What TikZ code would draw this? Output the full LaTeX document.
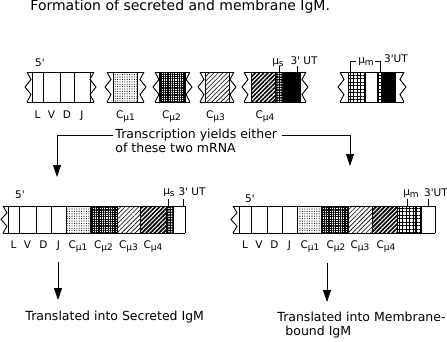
\documentclass[tikz,border=0pt]{standalone}
\usepackage{fontspec}
\setmainfont{DejaVu Sans}
\usetikzlibrary{positioning,patterns.meta,arrows.meta}

% exon fills
\tikzset{
  lbl/.style={inner sep=0pt, font=\fontsize{10.5}{12}\selectfont},
  txt/.style={inner sep=0pt, anchor=west, font=\fontsize{12.5}{15}\selectfont},
  cmua/.style={pattern={Dots[radius=0.55pt,distance=2.4pt]}},
  cmub/.style={pattern={Hatch[angle=0,distance=2.3pt,line width=1.2pt]}},
  cmuc/.style={pattern={Lines[angle=45,distance=3.2pt,line width=0.6pt]}},
  cmud/.style={pattern={Lines[angle=45,distance=3pt,line width=1.7pt]}},
  mus/.style={preaction={fill=black}, pattern={Dots[radius=0.9pt,distance=2.6pt]}, pattern color=white},
  mum/.style={pattern={Hatch[angle=0,distance=3.5pt,line width=0.6pt]}},
  utr/.style={fill=black},
  flow/.style={-{Triangle[width=8pt,length=12pt]}}
}

% broken ends of a gene segment: x, top, bottom
\newcommand{\zigl}[3]{\draw (#1,#2) -- ({#1+4},{#2+0.25*(#3-#2)}) -- ({#1-2},{(#2+#3)/2}) -- ({#1+4},{#2+0.75*(#3-#2)}) -- (#1,#3);}
\newcommand{\zigr}[3]{\draw (#1,#2) -- ({#1-4},{#2+0.25*(#3-#2)}) -- ({#1+2},{(#2+#3)/2}) -- ({#1-4},{#2+0.75*(#3-#2)}) -- (#1,#3);}
\newcommand{\dnaseg}[4]{\draw (#1,#3) -- (#2,#3) (#1,#4) -- (#2,#4); \zigl{#1}{#3}{#4} \zigr{#2}{#3}{#4}}
\newcommand{\sub}[1]{\raisebox{-2.5pt}{\fontsize{9}{10}\selectfont #1}}

\begin{document}
\begin{tikzpicture}[x=1pt, y=-1pt, line width=0.9pt]
  \useasboundingbox (0,0) rectangle (447,341);

  \node[anchor=west, inner sep=0pt, font=\fontsize{14}{16}\selectfont] (title) at (30,7) {Formation of secreted and membrane IgM.};

  % gene
  \fill[cmua] (113,72) rectangle (137,102);
  \fill[cmub] (159,72) rectangle (185,102);
  \fill[cmuc] (205,72) rectangle (229,102);
  \fill[cmud] (251,72) rectangle (275,102);
  \fill[mus] (275,72) rectangle (283,102);
  \fill[utr] (283,72) rectangle (300,102);
  \fill[mum] (348,72) rectangle (365,102);
  \fill[mum] (377,72) rectangle (382,102);
  \fill[utr] (382,72) rectangle (395,102);
  \dnaseg{27}{94}{72}{102}
  \dnaseg{107}{144}{72}{102}
  \dnaseg{155}{190}{72}{102}
  \dnaseg{200}{234}{72}{102}
  \dnaseg{244}{306}{72}{102}
  \dnaseg{340}{404}{72}{102}
  \foreach \x in {32,43,60,74,90,113,137,159,185,205,229,251,275,283,300,348,365,377,382,395}
    \draw (\x,72) -- (\x,102);

  \node[lbl] (g5) at (40,63) {5\textquotesingle};
  \foreach \x/\t in {37.5/L,51.5/V,67/D,82/J}
    \node[lbl, anchor=base] (g\t) at (\x,118) {\t};
  \foreach \x/\n in {125.5/1,171.5/2,215.5/3,265/4}
    \node[lbl, anchor=base] (gc\n) at (\x,118) {C\sub{μ\n}};
  \node[lbl, anchor=base] (gmus) at (278,64) {μ\sub{s}};
  \node[lbl, anchor=base] (gutr) at (304,64) {3\textquotesingle\ UT};
  \draw (279,66) -- (279,72);
  \draw (297,66) -- (297,72);
  \node[lbl, anchor=base] (gmum) at (366,63) {μ\sub{m}};
  \node[lbl, anchor=base] (gutrm) at (396,62) {3\textquotesingle UT};
  \draw (356,61) -| (350,72);
  \draw (375,61) -| (380,72);

  % transcription
  \node[txt] (trans) at (115,135) {Transcription yields either};
  \node[txt] (trans2) at (115,148) {of these two mRNA};
  \coordinate (mrnaa) at (57,177);
  \coordinate (mrnab) at (350,166);
  \draw[flow] ([xshift=-2pt]trans.west) -| (mrnaa);
  \draw[flow] ([xshift=4pt]trans.east) -| (mrnab);

  % secreted mRNA
  \fill[cmua] (66,206) rectangle (90,233);
  \fill[cmub] (90,206) rectangle (117,233);
  \fill[cmuc] (117,206) rectangle (140,233);
  \fill[cmud] (140,206) rectangle (166,233);
  \fill[mus] (166,206) rectangle (173,233);
  \zigl{3}{206}{233}
  \draw (3,206) -- (185,206) (3,233) -- (185,233);
  \foreach \x in {8,19,36,51,66,90,117,140,166,173,185}
    \draw (\x,206) -- (\x,233);
  \node[lbl] (s5) at (20,195) {5\textquotesingle};
  \foreach \x/\t in {13.5/L,27.5/V,43.5/D,58.5/J}
    \node[lbl, anchor=base] (s\t) at (\x,248) {\t};
  \foreach \x/\n in {78/1,103.5/2,128.5/3,153/4}
    \node[lbl, anchor=base] (sc\n) at (\x,248) {C\sub{μ\n}};
  \node[lbl, anchor=base] (smus) at (169,194) {μ\sub{s}};
  \node[lbl, anchor=base] (sutr) at (192,195) {3\textquotesingle\ UT};
  \draw (168,199) -- (168,206);
  \draw (183,199) -- (183,206);

  % membrane mRNA
  \fill[cmua] (297,206) rectangle (321,233);
  \fill[cmub] (321,206) rectangle (348,233);
  \fill[cmuc] (348,206) rectangle (372,233);
  \fill[cmud] (372,206) rectangle (397,233);
  \fill[mum] (397,206) rectangle (421,233);
  \zigl{233}{206}{233}
  \draw (233,206) -- (435,206) (233,233) -- (435,233);
  \foreach \x in {239,251,267,282,297,321,348,372,397,415,421,435}
    \draw (\x,206) -- (\x,233);
  \node[lbl] (m5) at (250,199) {5\textquotesingle};
  \foreach \x/\t in {245/L,259/V,274.5/D,289.5/J}
    \node[lbl, anchor=base] (m\t) at (\x,248) {\t};
  \foreach \x/\n in {310/1,336/2,360/3,386/4}
    \node[lbl, anchor=base] (mc\n) at (\x,248) {C\sub{μ\n}};
  \node[lbl, anchor=base] (mmum) at (411,195) {μ\sub{m}};
  \node[lbl, anchor=base] (mutr) at (436,196) {3\textquotesingle UT};
  \draw (407,199) -- (407,206);
  \draw (428,199) -- (428,206);

  % translation
  \node[txt] (sec) at (25,317) {Translated into Secreted IgM};
  \node[txt] (memb) at (277,317) {Translated into Membrane-};
  \node[txt] (memb2) at (285,332) {bound IgM};
  \coordinate (seca) at (58,262);
  \coordinate (secb) at (58,300);
  \coordinate (memba) at (327,263);
  \coordinate (membb) at (327,302);
  \draw[flow] (seca) -- (secb);
  \draw[flow] (memba) -- (membb);
\end{tikzpicture}
\end{document}
